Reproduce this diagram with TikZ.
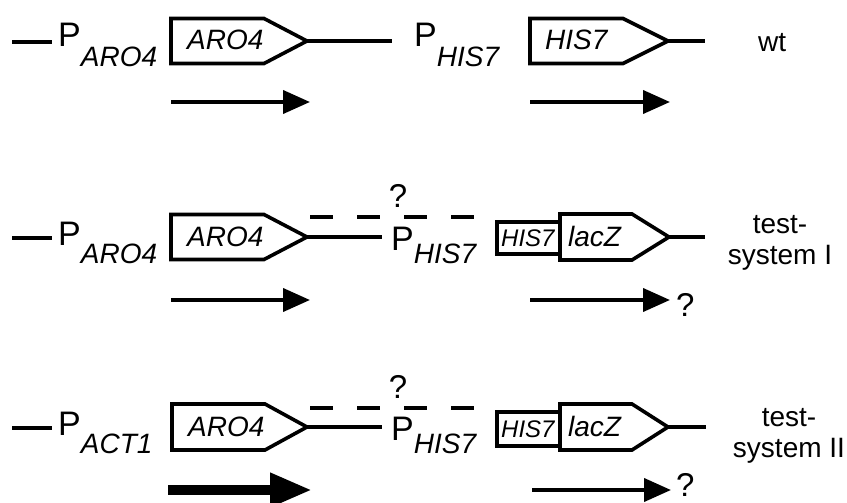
\documentclass[tikz,border=0pt]{standalone}
\usepackage{fontspec}
\setmainfont{Liberation Sans}
\usetikzlibrary{arrows.meta}
\newcommand\genepent[6]{%
  \draw[gene] (#2,#5-#6) -- (#3,#5-#6) -- (#4,#5) -- (#3,#5+#6) -- (#2,#5+#6) -- cycle;
  \coordinate (#1) at (#4,#5);}
\newcommand\promlabel[5]{%
  \node[lbl, anchor=base west] (#1) at (#2,#3) {{\fontsize{34}{34}\selectfont P}\raisebox{-#4pt}{\itshape #5}};}
\begin{document}
\begin{tikzpicture}[x=1pt,y=-1pt,
  gene/.style={draw, line width=3.6pt, line join=miter, fill=white},
  wire/.style={line width=3.2pt},
  dnaq/.style={line width=3.6pt, dash pattern=on 23pt off 24pt},
  lbl/.style={font=\fontsize{28}{29}\selectfont, inner sep=0pt},
  qlbl/.style={font=\fontsize{33}{33}\selectfont, inner sep=0pt},
  sidelbl/.style={font=\fontsize{28}{30.5}\selectfont, inner sep=0pt, align=center},
  smalllbl/.style={font=\fontsize{24}{24}\selectfont\itshape, inner sep=0pt},
  txarrow/.style={line width=4pt, -{Triangle[length=27pt,width=23pt]}},
  bigarrow/.style={line width=10pt, -{Triangle[length=42pt,width=32pt]}}]
\useasboundingbox (0,0) rectangle (847,503);

% ---------- row 1: wt ----------
\coordinate (r1a) at (12,42);
\coordinate (r1b) at (52,42);
\draw[wire] (r1a) -- (r1b);
\promlabel{p1a}{58}{47}{20}{ARO4}
\genepent{g1a}{171}{264}{307}{41}{22.5}
\node[lbl, anchor=base west] (t1a) at (187,50) {\itshape ARO4};
\coordinate (r1c) at (392,41);
\draw[wire] (g1a) -- (r1c);
\promlabel{p1b}{414}{47}{20}{HIS7}
\genepent{g1b}{530}{623}{668}{41}{22.5}
\node[lbl, anchor=base west] (t1b) at (545,50) {\itshape HIS7};
\coordinate (r1d) at (705,41);
\draw[wire] (g1b) -- (r1d);
\node[lbl, anchor=base west] (wt) at (758,52) {wt};
\coordinate (a1s) at (171,102); \coordinate (a1e) at (310,102);
\draw[txarrow] (a1s) -- (a1e);
\coordinate (a2s) at (530,102); \coordinate (a2e) at (670,102);
\draw[txarrow] (a2s) -- (a2e);

% ---------- row 2: test-system I ----------
\coordinate (r2a) at (12,238);
\coordinate (r2b) at (52,238);
\draw[wire] (r2a) -- (r2b);
\promlabel{p2a}{58}{245}{18}{ARO4}
\genepent{g2a}{171}{264}{307}{237}{22.5}
\node[lbl, anchor=base west] (t2a) at (187,246) {\itshape ARO4};
\coordinate (r2c) at (382,237);
\draw[wire] (g2a) -- (r2c);
\promlabel{p2b}{391}{250}{13}{HIS7}
\coordinate (d2s) at (310,217); \coordinate (d2e) at (477,217);
\draw[dnaq] (d2s) -- (d2e);
\node[qlbl, anchor=base] (q2a) at (398,207) {?};
\draw[gene] (497,222) rectangle (560,254);
\node[smalllbl, anchor=base west] (h2) at (501,246.5) {HIS7};
\genepent{g2b}{560}{632}{669}{237}{23}
\node[lbl, anchor=base west] (lz2) at (568,246) {\itshape lacZ};
\coordinate (r2d) at (705,237);
\draw[wire] (g2b) -- (r2d);
\node[sidelbl] (ts1) at (780,243) {test-\\system I};
\coordinate (a3s) at (171,300); \coordinate (a3e) at (310,300);
\draw[txarrow] (a3s) -- (a3e);
\coordinate (a4s) at (530,300); \coordinate (a4e) at (670,300);
\draw[txarrow] (a4s) -- (a4e);
\node[qlbl, anchor=base west] (q2b) at (676,316) {?};

% ---------- row 3: test-system II ----------
\coordinate (r3a) at (12,428);
\coordinate (r3b) at (52,428);
\draw[wire] (r3a) -- (r3b);
\promlabel{p3a}{58}{435}{18}{ACT1}
\genepent{g3a}{172}{265}{307}{427}{23}
\node[lbl, anchor=base west] (t3a) at (188,436) {\itshape ARO4};
\coordinate (r3c) at (382,427);
\draw[wire] (g3a) -- (r3c);
\promlabel{p3b}{391}{440}{13}{HIS7}
\coordinate (d3s) at (310,408); \coordinate (d3e) at (477,408);
\draw[dnaq] (d3s) -- (d3e);
\node[qlbl, anchor=base] (q3a) at (398,398) {?};
\draw[gene] (497,412) rectangle (560,446);
\node[smalllbl, anchor=base west] (h3) at (501,437) {HIS7};
\genepent{g3b}{560}{632}{668}{427}{23}
\node[lbl, anchor=base west] (lz3) at (568,436) {\itshape lacZ};
\coordinate (r3d) at (706,427);
\draw[wire] (g3b) -- (r3d);
\node[sidelbl] (ts2) at (789,436) {test-\\system II};
\coordinate (a5s) at (168,490); \coordinate (a5e) at (312,490);
\draw[bigarrow] (a5s) -- (a5e);
\coordinate (a6s) at (532,490); \coordinate (a6e) at (671,490);
\draw[txarrow] (a6s) -- (a6e);
\node[qlbl, anchor=base west] (q3b) at (676,496) {?};
\end{tikzpicture}
\end{document}
